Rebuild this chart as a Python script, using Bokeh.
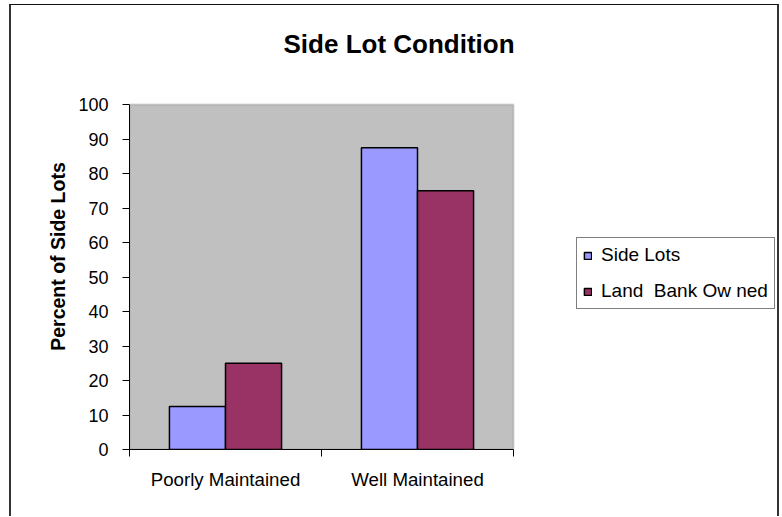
from bokeh.plotting import figure
from bokeh.models import FixedTicker, Legend, LegendItem, ColumnDataSource, Range1d, BoxAnnotation
from bokeh.embed import file_html
from bokeh.resources import INLINE

categories = ["Poorly Maintained", "Well Maintained"]
side_lots = [12.5, 87.5]
land_bank = [25, 75]
series_names = ["Side Lots", "Land  Bank Ow ned"]
y_ticks = [0, 10, 20, 30, 40, 50, 60, 70, 80, 90, 100]
y_max = 100

FONT = "Liberation Sans"
bar_w = 0.292
n = len(categories)
centers = [i + 0.5 for i in range(n)]

# frame spans the plot area plus the legend zone (right) and some headroom (top)
plot_w, frame_w = 384, 650
plot_h, frame_h = 345, 386
x_end = n * frame_w / plot_w
y_end = y_max * frame_h / plot_h

p = figure(width=770, height=512, output_backend="svg", toolbar_location=None,
           x_range=Range1d(0, x_end), y_range=Range1d(0, y_end),
           min_border_left=118, min_border_right=2, min_border_top=58, min_border_bottom=68,
           title="Side Lot Condition")
p.styles = {"margin-left": "9px", "margin-top": "4px",
            "border-left": "2px solid #333", "border-right": "2px solid #333",
            "border-top": "1px solid #111"}

p.background_fill_color = "white"
p.border_fill_color = "white"
p.outline_line_color = None
p.grid.visible = False

p.add_layout(BoxAnnotation(left=0, right=n, bottom=0, top=y_max, fill_color="#C0C0C0", fill_alpha=1,
                           line_color="#808080", line_width=2, level="underlay"))

p.title.text_font = FONT
p.title.text_font_size = "26px"
p.title.text_font_style = "bold"
p.title.text_color = "black"
p.title.align = "left"
p.title.offset = 154
p.title.standoff = 10

src1 = ColumnDataSource(dict(x=[c - bar_w / 2 for c in centers], top=side_lots))
src2 = ColumnDataSource(dict(x=[c + bar_w / 2 for c in centers], top=land_bank))
r1 = p.vbar(x="x", top="top", bottom=0, width=bar_w, source=src1,
            fill_color="#9999FF", line_color="black", line_width=1.5)
r2 = p.vbar(x="x", top="top", bottom=0, width=bar_w, source=src2,
            fill_color="#993366", line_color="black", line_width=1.5)

# y axis
p.yaxis.ticker = FixedTicker(ticks=y_ticks)
p.yaxis.bounds = (0, y_max)
p.yaxis.axis_label = "Percent of Side Lots"
p.yaxis.axis_label_text_font = FONT
p.yaxis.axis_label_text_font_size = "19.5px"
p.yaxis.axis_label_text_font_style = "bold"
p.yaxis.axis_label_text_color = "black"
p.yaxis.axis_label_standoff = 6
p.yaxis.major_label_text_font = FONT
p.yaxis.major_label_text_font_size = "18px"
p.yaxis.major_label_text_color = "black"
p.yaxis.major_tick_out = 7
p.yaxis.major_tick_in = 0
p.yaxis.minor_tick_line_color = None
p.yaxis.axis_line_color = "black"
p.yaxis.major_tick_line_color = "black"
p.yaxis.major_label_standoff = 14

# x axis
p.xaxis.ticker = FixedTicker(ticks=centers, minor_ticks=list(range(n + 1)))
p.xaxis.bounds = (0, n)
p.xaxis.major_label_overrides = {c: name for c, name in zip(centers, categories)}
p.xaxis.major_tick_line_color = None
p.xaxis.minor_tick_out = 7
p.xaxis.minor_tick_in = 0
p.xaxis.minor_tick_line_color = "black"
p.xaxis.axis_line_color = "black"
p.xaxis.major_label_text_font = FONT
p.xaxis.major_label_text_font_size = "18.7px"
p.xaxis.major_label_text_color = "black"
p.xaxis.major_label_standoff = 12

legend = Legend(items=[LegendItem(label=series_names[0], renderers=[r1]),
                       LegendItem(label=series_names[1], renderers=[r2])],
                location=(447, 140))
legend.border_line_color = "black"
legend.border_line_width = 1
legend.background_fill_color = "white"
legend.background_fill_alpha = 1
legend.label_text_font = FONT
legend.label_text_font_size = "19px"
legend.label_text_color = "black"
legend.glyph_width = 9
legend.glyph_height = 9
legend.label_standoff = 9
legend.padding = 6
legend.spacing = 14
legend.margin = 0
p.add_layout(legend)

open("out.html", "w").write(file_html(p, INLINE))
